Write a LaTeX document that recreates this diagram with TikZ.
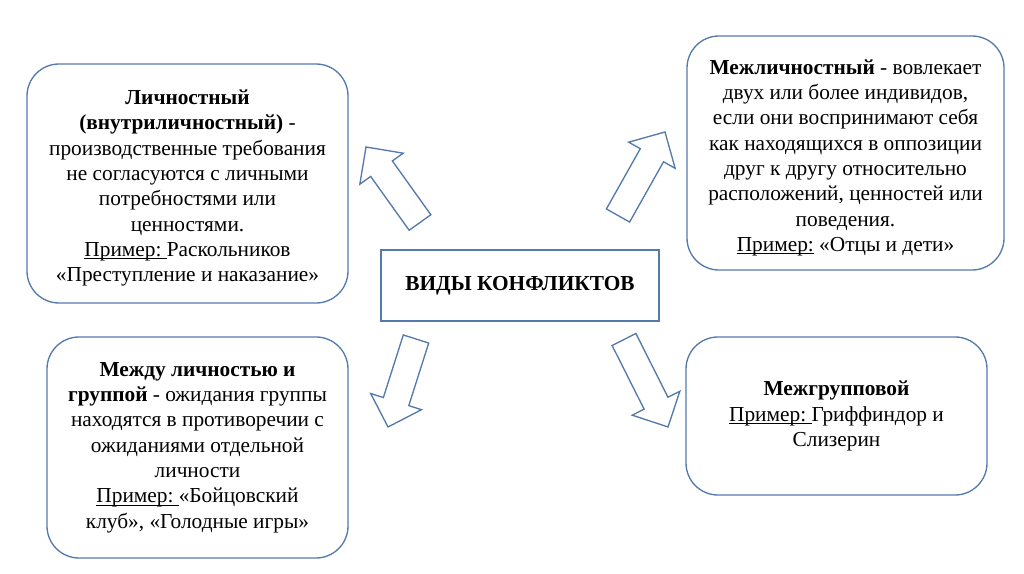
\documentclass[tikz,border=0pt]{standalone}
\usepackage{fontspec}
\setmainfont{LiberationSerif}[Extension=.ttf, UprightFont=*-Regular, BoldFont=*-Bold, ItalicFont=*-Italic, BoldItalicFont=*-BoldItalic]
\usetikzlibrary{calc}
\definecolor{rimblue}{RGB}{84,122,172}
\tikzset{
    kindbox/.style={draw=rimblue, line width=1pt, rounded corners=24pt, align=center, inner sep=4pt, font=\fontsize{16}{19}\selectfont},
    titlebox/.style={draw=rimblue, line width=1pt, font=\bfseries\fontsize{16}{19}\selectfont},
    fatarrow/.style={draw=rimblue, line width=1pt, fill=white, line join=miter}
}
% подчёркнутое слово
\newcommand{\ex}[1]{\setbox0\hbox{#1}\rlap{\rule[-2pt]{\wd0}{0.6pt}}\box0\relax}
% толстая стрелка: хвост #1, острие #2
\newcommand{\fatarrow}[2]{%
    \coordinate (hb) at ($(#2)!20pt!(#1)$);
    \draw[fatarrow] ($(#1)!10pt!90:(#2)$) -- ($(hb)!10pt!90:(#2)$) -- ($(hb)!20pt!90:(#2)$) -- (#2)
        -- ($(hb)!20pt!-90:(#2)$) -- ($(hb)!10pt!-90:(#2)$) -- ($(#1)!10pt!-90:(#2)$) -- cycle;}

\begin{document}
\begin{tikzpicture}[x=0.75pt, y=-0.75pt]
    \useasboundingbox (0, 0) rectangle (1024, 574);

    % центр
    \node[titlebox, minimum width=208.5pt, minimum height=53.25pt] (types) at (520, 285.5) {ВИДЫ КОНФЛИКТОВ};

    % личностный
    \node[kindbox, minimum width=240.75pt, minimum height=179.25pt] (personal) at (187.5, 183.5)
        {\rule{0pt}{18pt}\textbf{Личностный}\\ \textbf{(внутриличностный)} -\\ производственные требования\\ не согласуются с личными\\ потребностями или\\ ценностями.\\ \ex{Пример:\ }Раскольников\\ «Преступление и наказание»};

    % межличностный
    \node[kindbox, minimum width=237.75pt, minimum height=175.5pt] (inter) at (845.5, 153)
        {\rule{0pt}{18pt}\textbf{Межличностный} - вовлекает\\ двух или более индивидов,\\ если они воспринимают себя\\ как находящихся в оппозиции\\ друг к другу относительно\\ расположений, ценностей или\\ поведения.\\ \ex{Пример:} «Отцы и дети»};

    % между личностью и группой
    \node[kindbox, minimum width=225.75pt, minimum height=165.75pt] (pgroup) at (197.5, 447.5)
        {\textbf{Между личностью и}\\ \textbf{группой} - ожидания группы\\ находятся в противоречии с\\ ожиданиями отдельной\\ личности\\ \ex{Пример:\ }«Бойцовский\\ клуб», «Голодные игры»};

    % межгрупповой
    \node[kindbox, minimum width=225.75pt, minimum height=118.5pt] (groups) at (836.5, 416)
        {\textbf{Межгрупповой}\\ \ex{Пример:\ }Гриффиндор и\\ Слизерин};

    % стрелки
    \coordinate (ul-tail) at (420, 222.5);
    \coordinate (ul-tip) at (366, 147);
    \coordinate (ur-tail) at (618, 215.5);
    \coordinate (ur-tip) at (665, 132);
    \coordinate (dl-tail) at (416, 339);
    \coordinate (dl-tip) at (388, 427);
    \coordinate (dr-tail) at (624, 339.5);
    \coordinate (dr-tip) at (668, 427);
    \fatarrow{ul-tail}{ul-tip}
    \fatarrow{ur-tail}{ur-tip}
    \fatarrow{dl-tail}{dl-tip}
    \fatarrow{dr-tail}{dr-tip}
\end{tikzpicture}
\end{document}
